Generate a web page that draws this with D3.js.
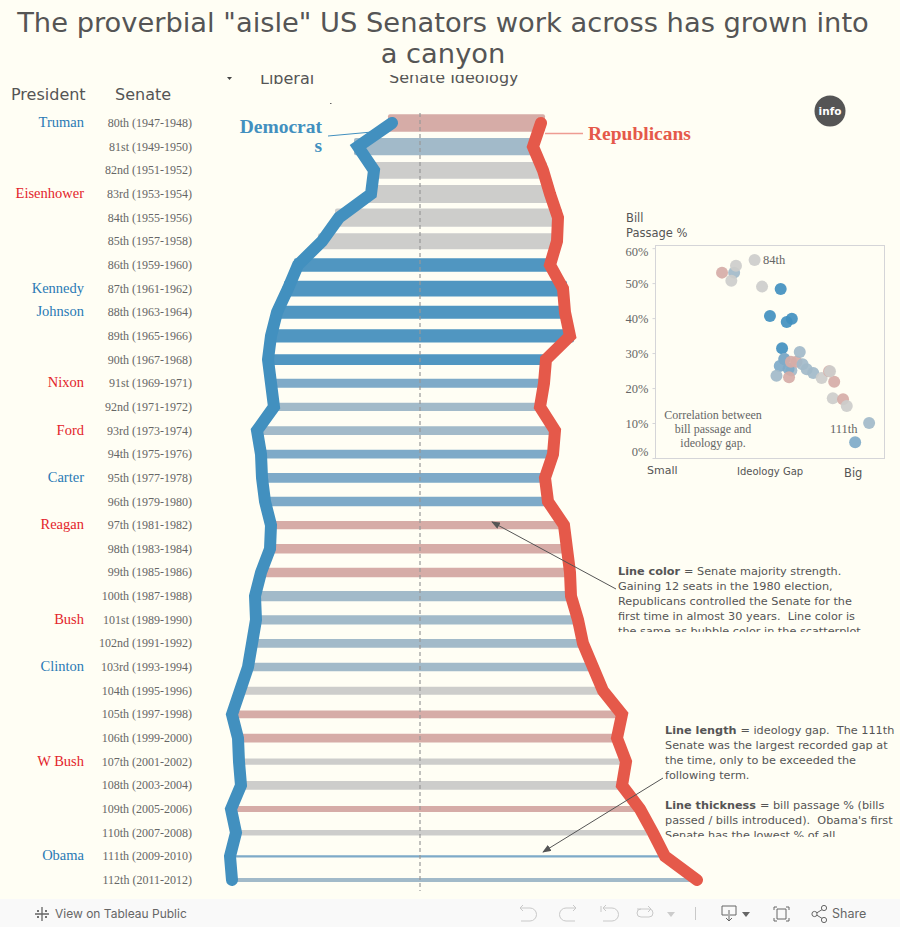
<!DOCTYPE html>
<html><head><meta charset="utf-8">
<script src="https://cdn.jsdelivr.net/npm/d3@7"></script>
<style>
html,body{margin:0;padding:0;background:#fffef4;overflow:hidden}
svg{display:block}
text{font-family:"DejaVu Sans",sans-serif}
.serif{font-family:Georgia,"Liberation Serif",serif}
</style></head><body><svg id="c" width="900" height="927"></svg>
<script>
const senates=["80th (1947-1948)","81st (1949-1950)","82nd (1951-1952)","83rd (1953-1954)","84th (1955-1956)","85th (1957-1958)","86th (1959-1960)","87th (1961-1962)","88th (1963-1964)","89th (1965-1966)","90th (1967-1968)","91st (1969-1971)","92nd (1971-1972)","93rd (1973-1974)","94th (1975-1976)","95th (1977-1978)","96th (1979-1980)","97th (1981-1982)","98th (1983-1984)","99th (1985-1986)","100th (1987-1988)","101st (1989-1990)","102nd (1991-1992)","103rd (1993-1994)","104th (1995-1996)","105th (1997-1998)","106th (1999-2000)","107th (2001-2002)","108th (2003-2004)","109th (2005-2006)","110th (2007-2008)","111th (2009-2010)","112th (2011-2012)"];
const demIdeology=[-.056,-.124,-.092,-.098,-.162,-.196,-.244,-.264,-.286,-.298,-.304,-.298,-.292,-.326,-.318,-.316,-.310,-.298,-.300,-.318,-.330,-.328,-.336,-.344,-.360,-.376,-.364,-.362,-.358,-.378,-.368,-.380,-.376];
const repIdeology=[.242,.226,.246,.260,.276,.274,.260,.286,.290,.300,.252,.248,.240,.270,.266,.250,.256,.288,.294,.300,.302,.316,.326,.346,.366,.404,.394,.412,.404,.440,.466,.490,.554];
const billPassage=[53,53,50.7,55,56.6,49,40.6,48.3,38.9,39.8,31.4,26.3,23.5,25,25.5,28.3,28.3,23.1,27.5,27.5,30.3,26.8,25.4,24.3,22.9,21.8,24.8,17.1,24.8,16.8,14.9,4.5,10];
const majority=["R","D1","N","N","N","N","D3","D3","D3","D3","D3","D2","D1","D1","D2","D2","D2","R","R","R","D1","D1","D1","D1","N","R","R","N","N","R","N","D2","D1"];
const majorityKeys=["R","N","D1","D2","D3"];
const majorityColors=["#d6aca7","#cdcdcb","#a2bac9","#7eaac8","#5096c1"];
const presidents=[["Truman",0,"D"],["Eisenhower",3,"R"],["Kennedy",7,"D"],["Johnson",8,"D"],["Nixon",11,"R"],["Ford",13,"R"],["Carter",15,"D"],["Reagan",17,"R"],["Bush",21,"R"],["Clinton",23,"D"],["W Bush",27,"R"],["Obama",31,"D"]];
const pctTicks=[0,10,20,30,40,50,60];
const titleLines=['The proverbial "aisle" US Senators work across has grown into','a canyon'];
const noteColor=["= Senate majority strength.","Gaining 12 seats in the 1980 election,","Republicans controlled the Senate for the","first time in almost 30 years.  Line color is","the same as bubble color in the scatterplot"];
const noteLength=["= ideology gap.  The 111th","Senate was the largest recorded gap at","the time, only to be exceeded the","following term.","","= bill passage % (bills","passed / bills introduced).  Obama's first","Senate has the lowest % of all"];
const svg=d3.select("#c");
const INK="#555",DEM="#4290bf",REP="#e5594a";
const defs=svg.append("defs");
const clip=(id,x,y,w,h)=>defs.append("clipPath").attr("id",id).append("rect").attr("x",x).attr("y",y).attr("width",w).attr("height",h);
clip("c1",0,75,900,30);clip("c2",600,560,300,72);clip("c3",650,720,250,117);
defs.append("marker").attr("id","ah").attr("viewBox","0 0 10 8").attr("refX",9).attr("refY",4).attr("markerWidth",9).attr("markerHeight",7).attr("markerUnits","userSpaceOnUse").attr("orient","auto").append("path").attr("d","M0,0L10,4L0,8Z").attr("fill",INK);
const y=d3.scalePoint().domain(senates).range([123,880]);
const x=d3.scaleLinear().domain([-.5,.6]).range([170,720]);
const thick=d3.scaleLinear().domain([0,60]).range([1,19.5]);
const col=d3.scaleOrdinal(majorityKeys,majorityColors);
const rows=senates.map((s,i)=>({s,d:demIdeology[i],r:repIdeology[i],p:billPassage[i],m:majority[i]}));

// title
svg.append("g").selectAll("text").data(titleLines).join("text").attr("x",443).attr("y",(d,i)=>32+i*31).attr("text-anchor","middle").attr("font-size",27.3).attr("fill",INK).text(d=>d);
// clipped header
const hd=svg.append("g").attr("clip-path","url(#c1)").attr("font-size",16).attr("fill",INK);
hd.append("text").attr("x",260).attr("y",84).text("Liberal");
hd.append("text").attr("x",389).attr("y",83).text("Senate Ideology");
svg.append("path").attr("d","M227,77h5l-2.5,3Z").attr("fill","#444");
svg.append("rect").attr("x",330).attr("y",103).attr("width",1.5).attr("height",1).attr("fill","#666");
svg.append("text").attr("x",11).attr("y",100).attr("font-size",16).attr("fill",INK).text("President");
svg.append("text").attr("x",115).attr("y",100).attr("font-size",16).attr("fill",INK).text("Senate");
// row labels
svg.append("g").selectAll("text").data(presidents).join("text").attr("class","serif").attr("x",84).attr("y",d=>y(senates[d[1]])+4).attr("text-anchor","end").attr("font-size",14.5).attr("fill",d=>d[2]=="D"?"#2a7ab5":"#e3242b").text(d=>d[0]);
svg.append("g").selectAll("text").data(rows).join("text").attr("class","serif").attr("x",192).attr("y",d=>y(d.s)+4).attr("text-anchor","end").attr("font-size",12).attr("fill","#666").text(d=>d.s);
// bars
svg.append("g").selectAll("rect").data(rows).join("rect").attr("x",d=>x(d.d)-4).attr("width",d=>x(d.r)-x(d.d)+8).attr("y",d=>y(d.s)-thick(d.p)/2).attr("height",d=>thick(d.p)).attr("rx",2).attr("fill",d=>col(d.m));
// center
svg.append("line").attr("x1",x(0)).attr("x2",x(0)).attr("y1",113).attr("y2",891).attr("stroke","#999").attr("stroke-opacity",.8).attr("stroke-width",1.5).attr("stroke-dasharray","4 3");
// callouts
svg.append("line").attr("x1",328).attr("y1",136).attr("x2",372).attr("y2",132).attr("stroke",DEM).attr("stroke-width",1);
svg.append("line").attr("x1",545).attr("y1",133.5).attr("x2",583).attr("y2",133.5).attr("stroke","#ee9c92").attr("stroke-width",1.5);
// lines
const ln=k=>d3.line().x(d=>x(d[k])).y(d=>y(d.s));
[["d",DEM],["r",REP]].forEach(([k,c])=>svg.append("path").datum(rows).attr("d",ln(k)).attr("fill","none").attr("stroke",c).attr("stroke-width",12).attr("stroke-linecap","round").attr("stroke-linejoin","miter").attr("stroke-miterlimit",3));
svg.append("g").selectAll("text").data(["Democrat","s"]).join("text").attr("class","serif").attr("x",322).attr("y",(d,i)=>133+i*19).attr("text-anchor","end").attr("font-size",19.5).attr("font-weight","bold").attr("fill",DEM).text(d=>d);
svg.append("text").attr("class","serif").attr("x",588).attr("y",140).attr("font-size",19.5).attr("font-weight","bold").attr("fill",REP).text("Republicans");
// info
svg.append("circle").attr("cx",830).attr("cy",111).attr("r",15.5).attr("fill","#555");
svg.append("text").attr("x",830).attr("y",115).attr("text-anchor","middle").attr("font-size",10.5).attr("font-weight","bold").attr("fill","#fff").text("info");
// scatter
const sx=d3.scaleLinear().domain([.01,.994]).range([655,884]);
const sy=d3.scaleLinear().domain([0,60.9]).range([458,245]);
svg.append("rect").attr("x",655.5).attr("y",245.5).attr("width",229).attr("height",213).attr("fill","none").attr("stroke","#d5d5d8");
const ax=svg.append("g").attr("transform","translate(655.5,0)").call(d3.axisLeft(sy).tickValues(pctTicks).tickSize(3).tickFormat(d=>d+"%"));
ax.select(".domain").remove();
ax.selectAll("line").attr("stroke","#d5d5d8");
ax.selectAll("text").attr("class","serif").attr("font-size",12.5).attr("fill","#666").attr("x",-7).attr("dy",d=>d==60?"7.5":d==0?"-3":"4");
svg.append("g").selectAll("circle").data(rows).join("circle").attr("cx",d=>sx(d.r-d.d)).attr("cy",d=>sy(d.p)).attr("r",6).attr("fill",d=>col(d.m)==="#5096c1"?"#4290bf":col(d.m)).attr("fill-opacity",.92);
const sm=(t,xx,yy,a,s)=>svg.append("text").attr("x",xx).attr("y",yy).attr("font-size",s||11.5).attr("fill",INK).attr("text-anchor",a||"start").text(t);
sm("Bill",626,222);sm("Passage %",626,237);sm("Small",647,474,"start",11);sm("Ideology Gap",737,475,"start",10);sm("Big",844,477);
[["84th",763,264],["111th",830,433]].forEach(d=>svg.append("text").attr("class","serif").attr("x",d[1]).attr("y",d[2]).attr("font-size",12.5).attr("fill","#666").text(d[0]));
svg.append("g").selectAll("text").data(["Correlation between","bill passage and","ideology gap."]).join("text").attr("class","serif").attr("x",713).attr("y",(d,i)=>419+i*14).attr("text-anchor","middle").attr("font-size",12).attr("fill","#666").text(d=>d);
// notes
const note=(lines,x0,y0,cid,bolds)=>{const g=svg.append("g").attr("clip-path",`url(#${cid})`).attr("font-size",11.25).attr("fill",INK);
 lines.forEach((t,i)=>{const e=g.append("text").attr("x",x0).attr("y",y0+i*15);if(bolds[i])e.append("tspan").attr("font-weight","bold").text(bolds[i]+" ");e.append("tspan").style("white-space","pre").text(t);});};
note(noteColor,618,575,"c2",{0:"Line color"});
note(noteLength,665,734,"c3",{0:"Line length",5:"Line thickness"});
svg.append("line").attr("x1",616).attr("y1",589).attr("x2",492).attr("y2",522).attr("stroke",INK).attr("marker-end","url(#ah)");
svg.append("line").attr("x1",663).attr("y1",778).attr("x2",543).attr("y2",852).attr("stroke",INK).attr("marker-end","url(#ah)");
// toolbar
const tb=svg.append("g");
tb.append("rect").attr("x",0).attr("y",899).attr("width",900).attr("height",28).attr("fill","#f9f9f9");
const ic=(d,c,w)=>tb.append("path").attr("d",d).attr("fill","none").attr("stroke",c).attr("stroke-width",w||1);
ic("M42,907v14M35,914h14M38,910v2M37,911h2M46,910v2M45,911h2M38,916v2M37,917h2M46,916v2M45,917h2","#666",1.3);
tb.append("text").attr("x",55).attr("y",918).attr("font-size",12).attr("fill","#666").style("font-family","Inter,Roboto,sans-serif").text("View on Tableau Public");
const L="#c9c9c9",D="#666";
ic("M520,908h10a6,6 0 0 1 0,13h-9M523,905l-3,3l3,3",L);
ic("M576,908h-10a6,6 0 0 0 0,13h9M573,905l3,3l-3,3",L);
ic("M601,906v6M603,908h9a6,6 0 0 1 0,13h-9M606,905l-3,3l3,3",L);
ic("M637,909h12a4,4 0 0 1 0,8h-8a4,4 0 0 1 -4,-4a4,4 0 0 1 4,-4M648,906l3,3l-3,3",L);
tb.append("path").attr("d","M667,912h8l-4,5Z").attr("fill","#ccc");
ic("M695.5,907v13",L);
ic("M728,915h-6v-9h14v9h-6M729,910v11M726,918l3,3l3,-3",D);
tb.append("path").attr("d","M742,912h8l-4,5Z").attr("fill",D);
ic("M774,910v-3h3M786,907h3v3M789,918v3h-3M777,921h-3v-3M777,909h9v10h-9Z",D);
ic("M815,914l8,-5M815,914l8,5",D);
[[814.5,914],[824,908],[824,920]].forEach(p=>tb.append("circle").attr("cx",p[0]).attr("cy",p[1]).attr("r",2.6).attr("fill","#f9f9f9").attr("stroke",D));
tb.append("text").attr("x",832).attr("y",918).attr("font-size",12.5).attr("fill","#666").style("font-family","Inter,Roboto,sans-serif").text("Share");
</script></body></html>
